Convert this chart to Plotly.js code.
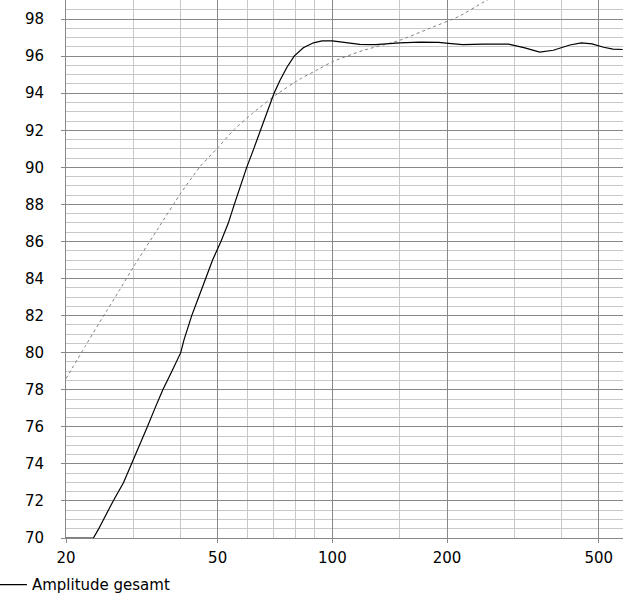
<!DOCTYPE html>
<html>
<head>
<meta charset="utf-8">
<script src="https://cdn.plot.ly/plotly-3.0.1.min.js"></script>
<style>
html,body{margin:0;padding:0;background:#fff;}
#chart{width:623px;height:608px;}
</style>
</head>
<body>
<div id="chart"></div>
<script>
// Solid curve: "Amplitude gesamt"
const ampFreq = [20, 23.6, 24.3, 25.06, 26.6, 28.3, 29.75, 31.1, 32.7, 34.2, 35.9, 37.9, 40, 40.8, 42.75, 44.6, 46.6, 48.5, 51.0, 53.3, 55.3, 57.5, 59.6, 62, 64.9, 67.3, 70.3, 72.9, 76, 79.4, 83.9, 89.2, 94, 100, 108, 118, 130, 150, 170, 190, 205, 220, 250, 290, 320, 350, 380, 420, 450, 480, 515, 545, 578];
const ampDb   = [70, 70, 70.45, 71.0, 72.0, 72.98, 74, 74.95, 76, 76.98, 78, 78.98, 80, 80.69, 82, 83.0, 84, 85, 86, 86.98, 88, 89.05, 90, 90.93, 92.01, 92.9, 94, 94.7, 95.4, 96.0, 96.45, 96.72, 96.82, 96.82, 96.74, 96.64, 96.62, 96.72, 96.76, 96.74, 96.68, 96.62, 96.65, 96.65, 96.45, 96.22, 96.32, 96.6, 96.72, 96.66, 96.48, 96.38, 96.36];

// Dashed reference curve (no legend entry)
const refFreq = [20, 22.5, 25, 27.5, 30, 35, 40, 45, 50, 55, 62, 71, 82, 92, 100, 120, 150, 180, 215, 250, 280];
const refDb   = [78.6, 80.37, 81.93, 83.3, 84.6, 86.75, 88.6, 90.05, 91.05, 92.0, 92.95, 93.9, 94.75, 95.3, 95.7, 96.3, 96.85, 97.5, 98.15, 98.93, 99.5];

const xTickVals = [20, 50, 100, 200, 500];
const xTickText = ['20', '50', '100', '200', '500'];
const xMinorVals = [30, 40, 60, 70, 80, 90, 150, 300, 400];

const traces = [
  {
    x: refFreq, y: refDb, type: 'scatter', mode: 'lines',
    line: {color: '#808080', width: 1, dash: '3px,3px', shape: 'spline', smoothing: 0.5},
    showlegend: false, hoverinfo: 'skip'
  },
  {
    x: ampFreq, y: ampDb, type: 'scatter', mode: 'lines', name: 'Amplitude gesamt',
    line: {color: '#000000', width: 1.2, shape: 'linear'},
    cliponaxis: false
  }
];

const layout = {
  width: 623, height: 608,
  margin: {l: 66, r: 0, t: 0, b: 70, pad: 0, autoexpand: false},
  paper_bgcolor: '#ffffff', plot_bgcolor: '#ffffff',
  font: {family: 'DejaVu Sans, sans-serif', size: 15, color: '#000'},
  showlegend: true,
  legend: {
    x: -0.133, xanchor: 'left', y: -0.087, yanchor: 'middle',
    bgcolor: 'rgba(0,0,0,0)', borderwidth: 0,
    font: {family: 'DejaVu Sans, sans-serif', size: 15, color: '#000'}
  },
  xaxis: {
    type: 'log',
    range: [Math.log10(20), Math.log10(579)],
    tickmode: 'array', tickvals: xTickVals, ticktext: xTickText,
    showgrid: true, gridcolor: '#888888', gridwidth: 1,
    minor: {tickmode: 'array', tickvals: xMinorVals, showgrid: true, gridcolor: '#c8c8c8', gridwidth: 1, ticks: ''},
    ticks: 'outside', ticklen: 4, tickcolor: '#888888',
    showline: true, linecolor: '#888888', linewidth: 1,
    zeroline: false, ticklabelstandoff: 2, automargin: false
  },
  yaxis: {
    range: [70, 99.03],
    tickmode: 'linear', tick0: 70, dtick: 2,
    showgrid: true, gridcolor: '#888888', gridwidth: 1,
    minor: {tickmode: 'linear', tick0: 70, dtick: 0.5, showgrid: true, gridcolor: '#c8c8c8', gridwidth: 1, ticks: ''},
    ticks: 'outside', ticklen: 4, tickcolor: '#888888',
    showline: true, linecolor: '#888888', linewidth: 1,
    zeroline: false, ticklabelstandoff: 14, automargin: false
  }
};

Plotly.newPlot('chart', traces, layout, {staticPlot: true, displayModeBar: false});
</script>
</body>
</html>
